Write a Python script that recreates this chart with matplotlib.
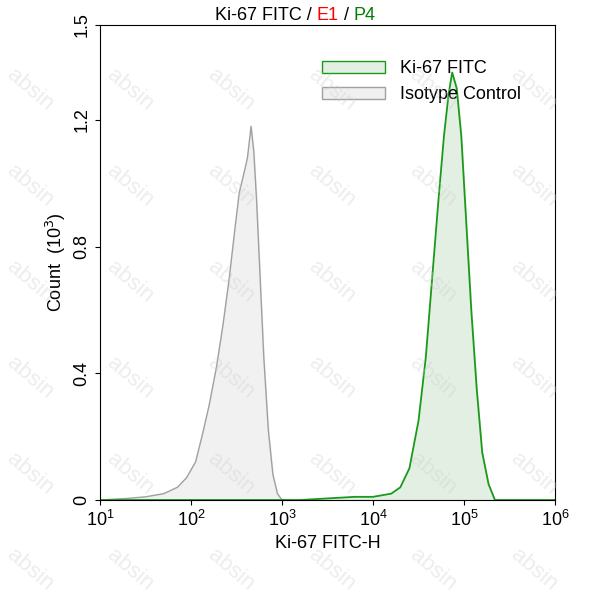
import numpy as np
import matplotlib.pyplot as plt
from matplotlib.patches import Patch

plt.rcParams['font.family'] = ['Liberation Sans', 'DejaVu Sans']

# log10 of FITC-H and counts (x10^3)
iso_log = [1.0, 1.3, 1.5, 1.7, 1.85, 1.95, 2.05, 2.12, 2.2, 2.28, 2.35, 2.42, 2.48, 2.53, 2.58,
           2.62, 2.66, 2.69, 2.72, 2.76, 2.8, 2.85, 2.9, 2.95, 3.0, 3.1]
iso_cnt = [0.0, 0.005, 0.01, 0.02, 0.04, 0.07, 0.12, 0.2, 0.3, 0.42, 0.55, 0.7, 0.85, 0.97, 1.03,
           1.08, 1.18, 1.1, 0.95, 0.7, 0.45, 0.22, 0.08, 0.02, 0.0, 0.0]

ki_log = [1.0, 3.2, 3.5, 3.8, 4.0, 4.2, 4.3, 4.4, 4.5, 4.58, 4.65, 4.72, 4.78, 4.83, 4.87,
          4.92, 4.97, 5.02, 5.08, 5.14, 5.2, 5.27, 5.34, 5.5, 6.0]
ki_cnt = [0.0, 0.0, 0.005, 0.01, 0.01, 0.02, 0.04, 0.1, 0.25, 0.45, 0.7, 0.95, 1.15, 1.28, 1.35,
          1.3, 1.15, 0.9, 0.6, 0.35, 0.15, 0.05, 0.0, 0.0, 0.0]

fig = plt.figure(figsize=(5.93, 6.0), dpi=100)
ax = fig.add_axes([100 / 593, 100 / 600, 455 / 593, 475 / 600])

ix = 10 ** np.array(iso_log)
kx = 10 ** np.array(ki_log)
ax.fill_between(ix, iso_cnt, color='#f0f0f0', alpha=0.9)
ax.plot(ix, iso_cnt, color='#a0a0a0', lw=1)
ax.fill_between(kx, ki_cnt, color='#e3efe3')
ax.plot(kx, ki_cnt, color='#1a9a1a', lw=1.3)

ax.set_xscale('log')
ax.set_xlim(10, 1e6)
ax.set_ylim(0, 1.5)
ax.set_yticks([0, 0.4, 0.8, 1.2, 1.5])
ax.set_yticklabels(['0', '0.4', '0.8', '1.2', '1.5'], rotation=90, va='center')
ax.minorticks_off()
ax.tick_params(labelsize=13, direction='out')
ax.set_xlabel('Ki-67 FITC-H', fontsize=13)
ax.set_ylabel('Count  (10$^3$)', fontsize=13)

ax.legend(handles=[Patch(facecolor='#e3efe3', edgecolor='#1a9a1a', label='Ki-67 FITC'),
                   Patch(facecolor='#f0f0f0', edgecolor='#a0a0a0', label='Isotype Control')],
          loc='upper right', bbox_to_anchor=(0.96, 0.96), frameon=False, fontsize=13,
          handlelength=3.5)

# multicolour title
renderer = fig.canvas.get_renderer()
parts = [('Ki-67 FITC / ', 'black'), ('E1', 'red'), (' / ', 'black'), ('P4', 'green')]
x = 215 / 593
for s, c in parts:
    t = fig.text(x, 0.975, s, color=c, fontsize=13, ha='left', va='center')
    x += t.get_window_extent(renderer).width / fig.bbox.width

# watermark
for gx in np.arange(0.05, 1.0, 0.17):
    for gy in np.arange(0.05, 1.0, 0.16):
        fig.text(gx, gy, 'absin', color='#cccccc', alpha=0.35, fontsize=16, rotation=-40,
                 ha='center', va='center')

fig.savefig('out.png', dpi=100)
